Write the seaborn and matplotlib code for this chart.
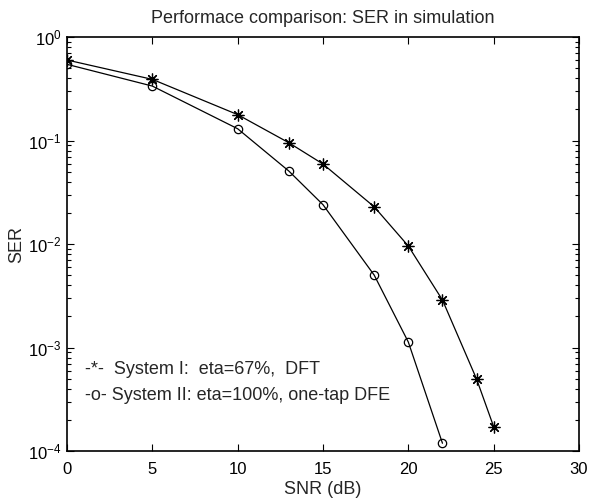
import matplotlib
matplotlib.use("Agg")
import matplotlib.pyplot as plt
import matplotlib.ticker as mticker
import numpy as np
import pandas as pd
import seaborn as sns

# SER simulation results
snr_sys1 = [0, 5, 10, 13, 15, 18, 20, 22, 24, 25]
ser_sys1 = [0.600, 0.390, 0.178, 0.0952, 0.0593, 0.0229, 0.00957, 0.00288, 0.000496, 0.000172]
snr_sys2 = [0, 5, 10, 13, 15, 18, 20, 22]
ser_sys2 = [0.545, 0.336, 0.130, 0.0507, 0.0240, 0.00501, 0.00113, 0.000119]

legend_lines = ["-*-  System I:  eta=67%,  DFT",
                "-o- System II: eta=100%, one-tap DFE"]
x_ticks = [0, 5, 10, 15, 20, 25, 30]

sns.set_style("ticks")
plt.rcParams["font.family"] = ["Liberation Sans", "DejaVu Sans"]
plt.rcParams["mathtext.default"] = "regular"
plt.rcParams["xtick.direction"] = "in"
plt.rcParams["ytick.direction"] = "in"

df1 = pd.DataFrame({"snr": snr_sys1, "ser": ser_sys1})
df2 = pd.DataFrame({"snr": snr_sys2, "ser": ser_sys2})

fig = plt.figure(figsize=(5.89, 5.04), dpi=100)
ax = fig.add_axes([0.1138, 0.105, 0.8692, 0.8215])

asterisk = (8, 2, 0)
sns.lineplot(data=df1, x="snr", y="ser", color="black", marker=asterisk,
             markersize=8.5, markeredgewidth=0.9, markeredgecolor="black",
             sort=False, linewidth=0.9, ax=ax)
sns.lineplot(data=df2, x="snr", y="ser", color="black", marker="o",
             markersize=6, markeredgewidth=0.9, markeredgecolor="black",
             markerfacecolor="none", sort=False, linewidth=0.9, ax=ax)

ax.set_yscale("log")
ax.set_xlim(0, 30)
ax.set_ylim(1e-4, 1)
ax.set_xticks(x_ticks)
ax.xaxis.set_minor_locator(mticker.NullLocator())
ax.yaxis.set_major_locator(mticker.LogLocator(base=10, numticks=10))
ax.yaxis.set_minor_locator(mticker.LogLocator(base=10, subs=np.arange(2, 10), numticks=10))
ax.yaxis.set_minor_formatter(mticker.NullFormatter())
ax.tick_params(which="both", top=True, right=True, labelsize=12, colors="black")
ax.tick_params(which="major", length=5, width=0.8)
ax.tick_params(which="minor", length=3, width=0.8)
ax.tick_params(axis="x", which="major", pad=8)
ax.tick_params(axis="y", which="major", pad=4)
for s in ax.spines.values():
    s.set_visible(True)
    s.set_linewidth(1.2)
    s.set_color("black")

ax.set_xlabel("SNR (dB)", fontsize=13, labelpad=3)
ax.set_ylabel("SER", fontsize=13, labelpad=2)
ax.set_title("Performace comparison: SER in simulation", fontsize=13, pad=10)

legend_y = [0.196, 0.135]
for txt, yy in zip(legend_lines, legend_y):
    ax.text(0.035, yy, txt, transform=ax.transAxes,
            fontsize=13, va="center", ha="left")

fig.savefig("out.png", dpi=100, facecolor="white")
